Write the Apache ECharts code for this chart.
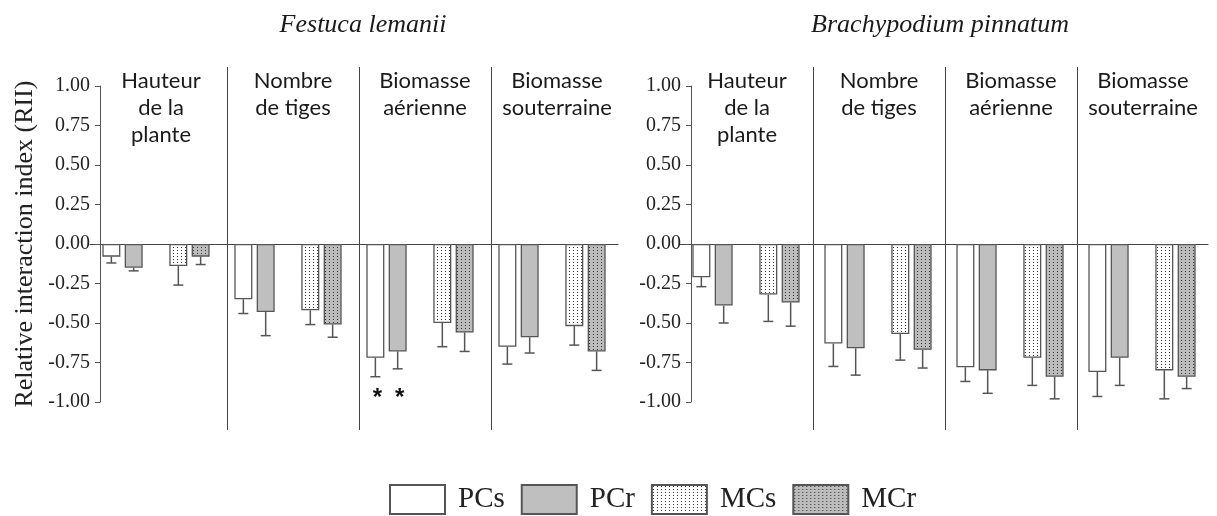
<!DOCTYPE html>
<html>
<head>
<meta charset="utf-8">
<script src="https://cdn.jsdelivr.net/npm/echarts@6/dist/echarts.min.js"></script>
<style>
  html, body { margin: 0; padding: 0; background: #ffffff; }
  #chart { width: 1217px; height: 516px; }
</style>
</head>
<body>
<div id="chart"></div>
<script>
// Plant traits (one band per trait)
const categories = ['Hauteur\nde la\nplante', 'Nombre\nde tiges', 'Biomasse\naérienne', 'Biomasse\nsouterraine'];
const seriesNames = ['PCs', 'PCr', 'MCs', 'MCr'];
const speciesTitles = ['Festuca lemanii', 'Brachypodium pinnatum'];
const yAxisTitle = 'Relative interaction index (RII)';

// Festuca lemanii : mean RII and standard error per treatment
const festucaPCs = [-0.08, -0.35, -0.72, -0.65];
const festucaPCsErr = [0.04, 0.09, 0.12, 0.11];
const festucaPCr = [-0.15, -0.43, -0.68, -0.59];
const festucaPCrErr = [0.02, 0.15, 0.11, 0.10];
const festucaMCs = [-0.14, -0.42, -0.50, -0.52];
const festucaMCsErr = [0.12, 0.09, 0.15, 0.12];
const festucaMCr = [-0.08, -0.51, -0.56, -0.68];
const festucaMCrErr = [0.05, 0.08, 0.12, 0.12];
// significant differences (series name, trait index)
const festucaSignificant = [['PCs', 2], ['PCr', 2]];

// Brachypodium pinnatum : mean RII and standard error per treatment
const brachyPCs = [-0.21, -0.63, -0.78, -0.81];
const brachyPCsErr = [0.06, 0.145, 0.09, 0.155];
const brachyPCr = [-0.39, -0.66, -0.80, -0.72];
const brachyPCrErr = [0.11, 0.17, 0.145, 0.175];
const brachyMCs = [-0.32, -0.57, -0.72, -0.80];
const brachyMCsErr = [0.17, 0.165, 0.175, 0.18];
const brachyMCr = [-0.37, -0.67, -0.84, -0.84];
const brachyMCrErr = [0.15, 0.115, 0.14, 0.075];
const brachySignificant = [];

// value axis range and step
const yMin = -1, yMax = 1, yStep = 0.25;

// ---------------------------------------------------------------------
function dotPattern(bg, dot) {
  const c = document.createElement('canvas');
  c.width = 4; c.height = 3;
  const g = c.getContext('2d');
  g.fillStyle = bg; g.fillRect(0, 0, 4, 3);
  g.fillStyle = dot; g.fillRect(1, 1, 1, 1);
  return { image: c, repeat: 'repeat' };
}

const BORDER = '#555555';
const styles = {
  PCs: { color: '#ffffff', borderColor: BORDER, borderWidth: 1.3 },
  PCr: { color: '#bfbfbf', borderColor: BORDER, borderWidth: 1.3 },
  MCs: { color: dotPattern('#ffffff', '#333333'), borderColor: BORDER, borderWidth: 1.3 },
  MCr: { color: dotPattern('#bcbcbc', '#333333'), borderColor: BORDER, borderWidth: 1.3 }
};
// slot order inside a band: PCs, PCr, (gap), MCs, MCr
const slotOf = { PCs: 0, PCr: 1, MCs: 3, MCr: 4 };
const SLOTS = 5, BAR_W = 18, BAR_GAP = '24%';
const SIG_LEVEL = -0.975;

const panels = [
  { values: { PCs: festucaPCs, PCr: festucaPCr, MCs: festucaMCs, MCr: festucaMCr },
    errors: { PCs: festucaPCsErr, PCr: festucaPCrErr, MCs: festucaMCsErr, MCr: festucaMCrErr },
    significant: festucaSignificant },
  { values: { PCs: brachyPCs, PCr: brachyPCr, MCs: brachyMCs, MCr: brachyMCr },
    errors: { PCs: brachyPCsErr, PCr: brachyPCrErr, MCs: brachyMCsErr, MCr: brachyMCrErr },
    significant: brachySignificant }
];

// panel placement
const mainGrids = [
  { left: 90, top: 86, width: 528, height: 316 },
  { left: 680, top: 86, width: 528, height: 316 }
];
const sepGrids = [
  { left: 95, top: 67, width: 528, height: 363 },
  { left: 681, top: 67, width: 528, height: 363 }
];
const yAxisOffsets = [-10, -11];

function renderErrorBar(params, api) {
  const cat = api.value(0), v = api.value(1), e = api.value(2), slot = api.value(3), sig = api.value(4);
  let offsetCenter;
  const layout = api.barLayout ? api.barLayout({ count: SLOTS, barWidth: BAR_W, barGap: BAR_GAP }) : null;
  if (layout && layout[slot]) {
    offsetCenter = layout[slot].offsetCenter;
  } else {
    const gap = BAR_W * 0.24;
    const total = SLOTS * BAR_W + (SLOTS - 1) * gap;
    offsetCenter = -total / 2 + slot * (BAR_W + gap) + BAR_W / 2;
  }
  const x = api.coord([cat, 0])[0] + offsetCenter;
  const y1 = api.coord([cat, v])[1];
  const y2 = api.coord([cat, v - e])[1];
  const stroke = { stroke: '#555555', lineWidth: 1.5 };
  const children = [
    { type: 'line', shape: { x1: x, y1: y1, x2: x, y2: y2 }, style: stroke },
    { type: 'line', shape: { x1: x - 5, y1: y2, x2: x + 5, y2: y2 }, style: stroke }
  ];
  if (sig) {
    children.push({
      type: 'text', x: x + 2, y: api.coord([cat, SIG_LEVEL])[1],
      style: { text: '*', fill: '#111111', font: 'bold 24px "Liberation Sans"', align: 'center', verticalAlign: 'middle' }
    });
  }
  return { type: 'group', children: children };
}

const grid = [], xAxis = [], yAxis = [], series = [];

panels.forEach(function (p, pi) {
  grid.push(mainGrids[pi]);
  xAxis.push({
    type: 'category', gridIndex: pi, data: categories, boundaryGap: true,
    axisLine: { onZero: true, lineStyle: { color: '#444444', width: 1 } },
    axisTick: { show: false }, axisLabel: { show: false }, splitLine: { show: false }
  });
  yAxis.push({
    type: 'value', gridIndex: pi, min: yMin, max: yMax, interval: yStep,
    offset: yAxisOffsets[pi],
    name: pi === 0 ? yAxisTitle : '',
    nameLocation: 'middle', nameGap: 62,
    nameTextStyle: { fontFamily: 'Liberation Serif', fontSize: 26, color: '#222222' },
    axisLine: { show: true, lineStyle: { color: '#555555', width: 1 } },
    axisTick: { show: true, length: 5, lineStyle: { color: '#555555' } },
    axisLabel: { fontFamily: 'Liberation Serif', fontSize: 20, color: '#222222', margin: 10,
                 formatter: function (v) { return v.toFixed(2); } },
    splitLine: { show: false }
  });

  const order = ['PCs', 'PCr', null, 'MCs', 'MCr'];
  order.forEach(function (name) {
    if (name === null) {
      // empty slot that separates the two treatment pairs
      series.push({ type: 'bar', name: '_gap', xAxisIndex: pi, yAxisIndex: pi,
        data: categories.map(function () { return '-'; }),
        barWidth: BAR_W, barGap: BAR_GAP, silent: true });
      return;
    }
    series.push({
      type: 'bar', name: name, xAxisIndex: pi, yAxisIndex: pi,
      data: p.values[name], barWidth: BAR_W, barGap: BAR_GAP,
      itemStyle: styles[name], emphasis: { disabled: true }, animation: false
    });
  });

  const errData = [];
  seriesNames.forEach(function (name) {
    p.values[name].forEach(function (v, ci) {
      const sig = p.significant.some(function (s) { return s[0] === name && s[1] === ci; }) ? 1 : 0;
      errData.push([ci, v, p.errors[name][ci], slotOf[name], sig]);
    });
  });
  series.push({
    type: 'custom', name: '_err', xAxisIndex: pi, yAxisIndex: pi,
    renderItem: renderErrorBar, data: errData, silent: true, animation: false, z: 3
  });
});

// trait separators and trait labels
panels.forEach(function (p, pi) {
  const gi = 2 + pi;
  grid.push(sepGrids[pi]);
  xAxis.push({
    type: 'category', gridIndex: gi, data: categories, position: 'top', boundaryGap: true,
    axisLine: { show: false }, axisTick: { show: false },
    axisLabel: { show: true, inside: true, margin: 0, verticalAlign: 'top', interval: 0,
                 fontFamily: 'Lato', fontSize: 22, lineHeight: 27, color: '#1a1a1a', align: 'center' },
    splitLine: { show: true, showMinLine: false, showMaxLine: false, interval: 0,
                 lineStyle: { color: '#444444', width: 1 } }
  });
  yAxis.push({ type: 'value', gridIndex: gi, min: 0, max: 1, show: false });
});

const chart = echarts.init(document.getElementById('chart'), null, { renderer: 'canvas' });
chart.setOption({
  backgroundColor: '#ffffff',
  animation: false,
  title: [
    { text: speciesTitles[0], left: 358, top: 7, textAlign: 'center',
      textStyle: { fontFamily: 'Liberation Serif', fontStyle: 'italic', fontWeight: 'normal', fontSize: 26, color: '#1a1a1a' } },
    { text: speciesTitles[1], left: 935, top: 7, textAlign: 'center',
      textStyle: { fontFamily: 'Liberation Serif', fontStyle: 'italic', fontWeight: 'normal', fontSize: 26, color: '#1a1a1a' } }
  ],
  legend: {
    data: seriesNames, left: 384, top: 479, orient: 'horizontal',
    icon: 'rect', itemWidth: 55, itemHeight: 29, itemGap: 16, selectedMode: false,
    textStyle: { fontFamily: 'Liberation Serif', fontSize: 29, color: '#222222', padding: [0, 0, 0, 8] }
  },
  grid: grid,
  xAxis: xAxis,
  yAxis: yAxis,
  series: series
});
</script>
</body>
</html>
